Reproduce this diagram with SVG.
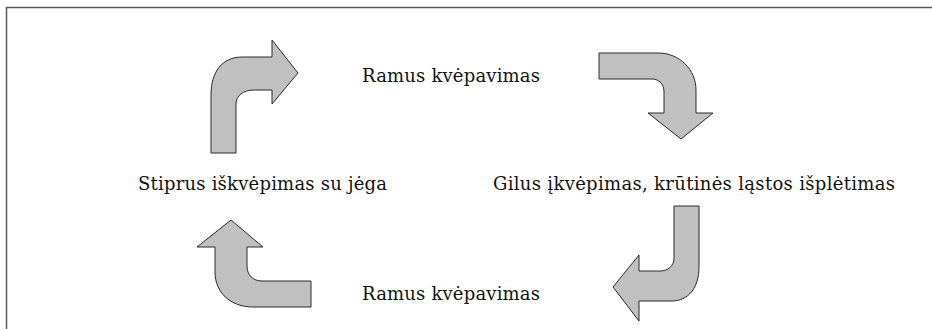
<svg xmlns="http://www.w3.org/2000/svg" width="932" height="329" viewBox="0 0 932 329">
<style>
.arrow{fill:#c0c0c0;stroke:#2a2a2a;stroke-width:1;stroke-linejoin:miter}
.lbl{font-family:"DejaVu Serif","Liberation Serif",serif;font-size:18px;fill:#111}
</style>
<rect x="0" y="0" width="932" height="329" fill="#ffffff"/>
<rect x="6.5" y="7.5" width="940" height="340" fill="none" stroke="#5a5a5a" stroke-width="1.5"/>
<g id="connectors">
<path id="arrow-top-left" class="arrow" d="M211,153 L211,95 C211,72 222,57 242,57 L272,57 L272,40 L298,73 L272,104 L272,90 L254,90 C243,90 236,96 236,104 L236,153 Z"/>
<path id="arrow-top-right" class="arrow" d="M599,53 L658,53 C680,53 696,70 696,90 L696,113 L713,113 L681,139 L648,113 L664,113 L664,92 C664,84 659,79 652,79 L599,79 Z"/>
<path id="arrow-bottom-right" class="arrow" d="M674,206 L699,206 L699,267 C699,288 688,301 672,301 L639,301 L639,321 L613,287 L639,255 L639,271 L660,271 C668,271 674,266 674,258 Z"/>
<path id="arrow-bottom-left" class="arrow" d="M311,281 L311,307 L253,307 C230,307 215,292 215,272 L215,247 L197,247 L231,220 L263,247 L247,247 L247,266 C247,275 253,281 262,281 Z"/>
</g>
<g id="node-top">
<text class="lbl" x="362" y="82" textLength="178" lengthAdjust="spacing">Ramus kvėpavimas</text>
</g>
<g id="node-left">
<text class="lbl" x="138" y="190" textLength="249" lengthAdjust="spacing">Stiprus iškvėpimas su jėga</text>
</g>
<g id="node-right">
<text class="lbl" x="493" y="190" textLength="402" lengthAdjust="spacing">Gilus įkvėpimas, krūtinės ląstos išplėtimas</text>
</g>
<g id="node-bottom">
<text class="lbl" x="362" y="300" textLength="178" lengthAdjust="spacing">Ramus kvėpavimas</text>
</g>
</svg>
